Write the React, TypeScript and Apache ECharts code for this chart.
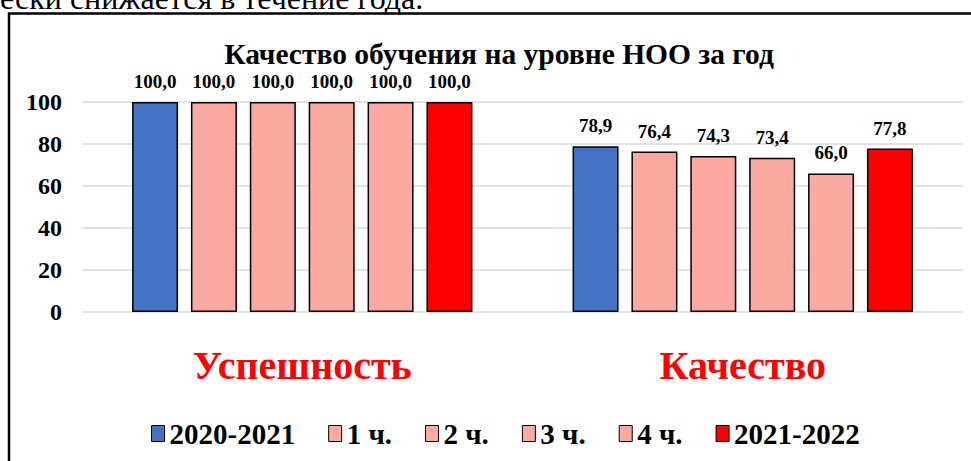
import React, { useEffect, useRef } from "react";
import * as echarts from "echarts";

const categories = ["Успешность", "Качество"];
const seriesNames = ["2020-2021", "1 ч.", "2 ч.", "3 ч.", "4 ч.", "2021-2022"];
const s2020 = [100.0, 78.9];
const sQ1 = [100.0, 76.4];
const sQ2 = [100.0, 74.3];
const sQ3 = [100.0, 73.4];
const sQ4 = [100.0, 66.0];
const s2021 = [100.0, 77.8];
const yTicks = [0, 20, 40, 60, 80, 100];
const colors = ["#4472C4", "#FCA9A2", "#FCA9A2", "#FCA9A2", "#FCA9A2", "#FF0000"];
const titleText = "Качество обучения на уровне НОО за год";
const topText = "ески снижается в течение года.";

const FONT = "Liberation Serif";

export default function App() {
  const ref = useRef<HTMLDivElement>(null);
  useEffect(() => {
    if (!ref.current) return;
    const chart = echarts.init(ref.current, undefined, { renderer: "svg" });
    const data = [s2020, sQ1, sQ2, sQ3, sQ4, s2021];
    chart.setOption({
      animation: false,
      backgroundColor: "#fff",
      textStyle: { fontFamily: FONT },
      title: {
        text: titleText,
        left: 494,
        top: 34,
        textAlign: "center",
        textStyle: { fontFamily: FONT, fontWeight: "bold", fontSize: 29.5, color: "#000" },
      },
      graphic: [
        {
          type: "rect",
          shape: { x: 9, y: 13.5, width: 975, height: 470 },
          style: { fill: "none", stroke: "#000", lineWidth: 2.5 },
          silent: true,
        },
        {
          type: "text",
          x: 0,
          y: 14,
          style: {
            text: topText,
            fontFamily: FONT,
            fontSize: 32,
            fill: "#000",
            verticalAlign: "bottom",
            align: "left",
          },
          silent: true,
        },
      ],
      legend: {
        left: 146,
        top: 414,
        itemWidth: 13,
        itemHeight: 16,
        itemGap: 33,
        icon: "rect",
        data: seriesNames,
        itemStyle: { borderColor: "#000", borderWidth: 1 },
        textStyle: { fontFamily: FONT, fontWeight: "bold", fontSize: 29, color: "#000" },
      },
      grid: { left: 82, right: 8, top: 102, bottom: 149, containLabel: false },
      xAxis: {
        type: "category",
        data: categories,
        axisLine: { show: false },
        axisTick: { show: false },
        axisLabel: {
          margin: 33,
          color: "#FF0000",
          fontFamily: FONT,
          fontWeight: "bold",
          fontSize: 40,
        },
      },
      yAxis: {
        type: "value",
        min: yTicks[0],
        max: yTicks[yTicks.length - 1],
        interval: 20,
        axisLine: { show: false },
        axisTick: { show: false },
        splitLine: { lineStyle: { color: "#d9d9d9", width: 1.5 } },
        axisLabel: {
          margin: 20,
          color: "#000",
          fontFamily: FONT,
          fontWeight: "bold",
          fontSize: 24,
        },
      },
      series: seriesNames.map((name, i) => ({
        name,
        type: "bar",
        data: data[i],
        barWidth: 46,
        barGap: "28%",
        itemStyle: { color: colors[i], borderColor: "#000", borderWidth: 1.5 },
        label: {
          show: true,
          position: "top",
          distance: 11,
          color: "#000",
          fontFamily: FONT,
          fontWeight: "bold",
          fontSize: 19,
          formatter: (p: any) => Number(p.value).toFixed(1).replace(".", ","),
        },
      })),
    });
    return () => chart.dispose();
  }, []);
  return (
    <div
      ref={ref}
      style={{ position: "fixed", left: 0, top: 0, width: 971, height: 461 }}
    />
  );
}
